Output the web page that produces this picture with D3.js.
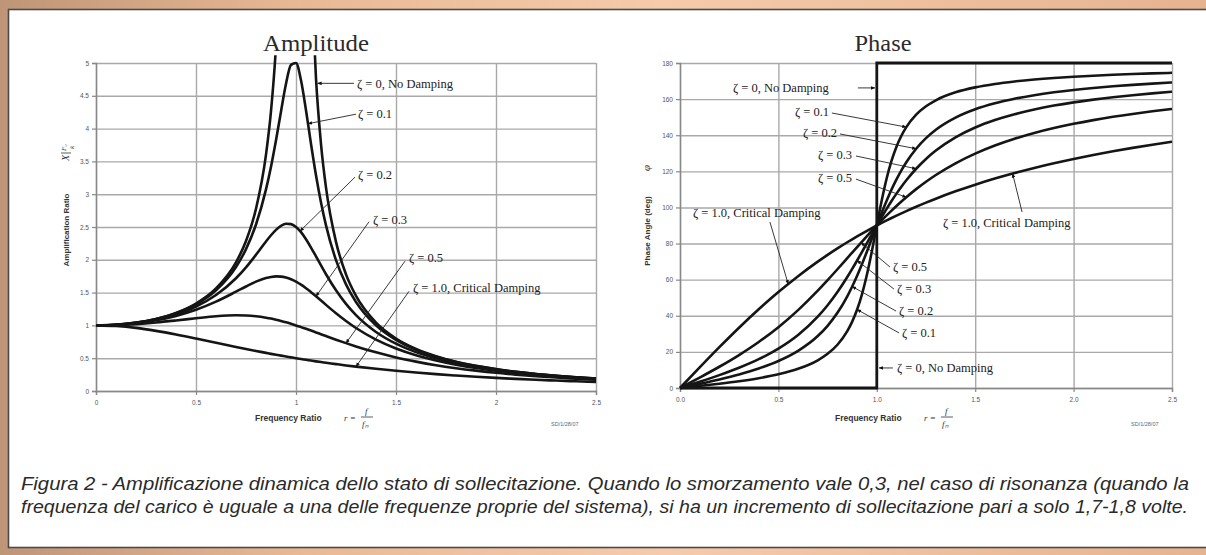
<!DOCTYPE html>
<html><head><meta charset="utf-8">
<script src="https://cdn.jsdelivr.net/npm/d3@7"></script>
<style>
html,body{margin:0;padding:0;background:#fff;}
svg{display:block;}
</style></head>
<body><svg id="c" width="1206" height="555"></svg>
<script>
// ---------- DATA ----------
const ratio = [0,0.1,0.2,0.3,0.4,0.5,0.6,0.7,0.75,0.8,0.85,0.875,0.9,0.925,0.95,0.975,1.0,1.025,1.05,1.075,1.1,1.125,1.15,1.2,1.25,1.3,1.4,1.5,1.6,1.7,1.8,1.9,2.0,2.1,2.2,2.3,2.4,2.5];
// amplification ratio per damping
const amp0  = [1,1.010,1.042,1.099,1.190,1.333,1.563,1.961,2.286,2.778,3.604,4.267,5.263,6.926,null,null,null,null,null,6.426,4.762,3.765,3.101,2.273,1.778,1.449,1.042,0.800,0.641,0.529,0.446,0.383,0.333,0.293,0.260,0.233,0.210,0.190];
const amp1  = [1,1.010,1.041,1.097,1.185,1.322,1.536,1.891,2.162,2.538,3.073,3.419,3.821,4.261,4.683,4.971,5.000,4.736,4.279,3.768,3.288,2.873,2.525,1.995,1.625,1.356,1.000,0.778,0.628,0.521,0.441,0.379,0.330,0.291,0.259,0.232,0.209,0.190];
const amp2  = [1,1.009,1.038,1.090,1.170,1.288,1.463,1.719,1.885,2.076,2.279,2.374,2.457,2.518,2.549,2.544,2.500,2.421,2.313,2.187,2.051,1.914,1.780,1.536,1.329,1.157,0.900,0.721,0.593,0.498,0.425,0.368,0.322,0.285,0.254,0.228,0.206,0.187];
const amp3  = [1,1.008,1.034,1.078,1.145,1.238,1.362,1.514,1.593,1.667,1.722,1.739,1.747,1.744,1.729,1.703,1.667,1.621,1.567,1.507,1.444,1.379,1.313,1.185,1.067,0.960,0.784,0.649,0.546,0.466,0.402,0.351,0.310,0.275,0.246,0.222,0.201,0.183];
const amp5  = [1,1.005,1.020,1.044,1.075,1.109,1.140,1.155,1.152,1.140,1.118,1.104,1.087,1.068,1.047,1.024,1.000,0.974,0.948,0.921,0.893,0.865,0.837,0.782,0.730,0.680,0.589,0.512,0.448,0.393,0.348,0.310,0.277,0.250,0.226,0.205,0.188,0.172];
const amp10 = [1,0.990,0.962,0.917,0.862,0.800,0.735,0.671,0.640,0.610,0.581,0.566,0.552,0.539,0.526,0.513,0.500,0.488,0.476,0.464,0.452,0.441,0.431,0.410,0.390,0.372,0.338,0.308,0.281,0.257,0.236,0.217,0.200,0.185,0.171,0.159,0.148,0.138];
// phase angle (deg) per damping
const stepRatio = [0,1,1,2.5];
const ph0  = [0,0,180,180];
const ph1  = [0,1.16,2.39,3.77,5.44,7.60,10.62,15.35,18.93,23.96,31.49,36.75,43.45,52.03,62.83,75.79,90,103.87,116.02,125.90,133.67,139.73,144.50,151.39,156.04,159.35,163.74,166.50,168.41,169.80,170.87,171.72,172.41,172.98,173.46,173.88,174.24,174.56];
const ph2  = [0,2.31,4.76,7.51,10.78,14.93,20.56,28.77,34.44,41.63,50.78,56.19,62.18,68.69,75.61,82.78,90,97.04,103.72,109.90,115.51,120.55,125.03,132.51,138.37,143.00,149.74,154.36,157.69,160.21,162.18,163.77,165.07,166.16,167.09,167.90,168.60,169.22];
const ph3  = [0,3.47,7.13,11.19,15.95,21.80,29.36,39.47,45.81,53.13,61.45,65.94,70.61,75.42,80.29,85.18,90,94.71,99.24,103.57,107.65,111.48,115.05,121.43,126.87,131.50,138.81,144.25,148.39,151.64,154.26,156.41,158.20,159.72,161.03,162.17,163.17,164.06];
const ph5  = [0,5.77,11.77,18.25,25.46,33.69,43.15,53.92,59.74,65.77,71.92,75.00,78.08,81.13,84.14,87.10,90,92.83,95.58,98.24,100.81,103.29,105.67,110.14,114.23,117.96,124.44,129.81,134.28,138.03,141.22,143.95,146.31,148.37,150.19,151.80,153.24,154.54];
const ph10 = [0,11.42,22.62,33.40,43.60,53.13,61.93,69.98,73.74,77.32,80.73,82.37,83.97,85.54,87.06,88.55,90,91.41,92.79,94.14,95.45,96.73,97.98,100.39,102.68,104.86,108.92,112.62,115.99,119.07,121.89,124.48,126.87,129.07,131.11,133.00,134.76,136.40];
// ticks
const xTicks = [0,0.5,1,1.5,2,2.5];
const ampXLabels = ["0","0.5","1","1.5","2","2.5"];
const phXLabels = ["0.0","0.5","1.0","1.5","2.0","2.5"];
const ampYTicks = [0,0.5,1,1.5,2,2.5,3,3.5,4,4.5,5];
const ampYLabels = ["0","0.5","1","1.5","2","2.5","3","3.5","4","4.5","5"];
const phYTicks = [0,20,40,60,80,100,120,140,160,180];
const phYLabels = ["0","20","40","60","80","100","120","140","160","180"];
const titles = ["Amplitude","Phase"];
const caption = [
 "Figura 2 - Amplificazione dinamica dello stato di sollecitazione. Quando lo smorzamento vale 0,3, nel caso di risonanza (quando la",
 "frequenza del carico è uguale a una delle frequenze proprie del sistema), si ha un incremento di sollecitazione pari a solo 1,7-1,8 volte."
];

// ---------- DRAW ----------
const svg = d3.select("#c");
const defs = svg.append("defs");
const bg = defs.append("linearGradient").attr("id","bg").attr("x1","0").attr("x2","1").attr("y1","0").attr("y2","0");
bg.append("stop").attr("offset","0").attr("stop-color","#bf9577");
bg.append("stop").attr("offset","0.25").attr("stop-color","#e9b995");
bg.append("stop").attr("offset","0.55").attr("stop-color","#f5cbab");
bg.append("stop").attr("offset","1").attr("stop-color","#e6b390");
svg.append("rect").attr("width",1206).attr("height",555).attr("fill","url(#bg)");
svg.append("rect").attr("x",8.5).attr("y",9.5).attr("width",1205).attr("height",538)
  .attr("fill","#fff").attr("stroke","#4a4a4a").attr("stroke-width",1.6);

defs.append("marker").attr("id","arr").attr("viewBox","0 0 10 10").attr("refX",9).attr("refY",5)
  .attr("markerWidth",5).attr("markerHeight",5).attr("orient","auto")
  .append("path").attr("d","M0,1 L10,5 L0,9 Z").attr("fill","#111");

const xA = d3.scaleLinear().domain([0,2.5]).range([96,596]);
const yA = d3.scaleLinear().domain([0,5]).range([391,63]);
const xP = d3.scaleLinear().domain([0,2.5]).range([680,1172]);
const yP = d3.scaleLinear().domain([0,180]).range([388,63]);

function valueAt(arr, r){
  const i = d3.bisectLeft(ratio, r);
  if (ratio[i] === r) return arr[i];
  const t = (r - ratio[i-1])/(ratio[i]-ratio[i-1]);
  return arr[i-1] + t*(arr[i]-arr[i-1]);
}

function frame(x, y, xLabels, yTicks, yLabels){
  const g = svg.append("g");
  const [y0,y1] = y.range(), [x0,x1] = x.range();
  g.append("g").attr("transform",`translate(0,${y0})`)
    .call(d3.axisBottom(x).tickValues(xTicks).tickSize(-(y0-y1)).tickFormat(""))
    .call(s=>s.select(".domain").remove())
    .call(s=>s.selectAll("line").attr("stroke","#a9a9a9").attr("stroke-width",1.4));
  g.append("g").attr("transform",`translate(${x0},0)`)
    .call(d3.axisLeft(y).tickValues(yTicks).tickSize(-(x1-x0)).tickFormat(""))
    .call(s=>s.select(".domain").remove())
    .call(s=>s.selectAll("line").attr("stroke","#a9a9a9").attr("stroke-width",1.4));
  const ax = g.append("g").attr("transform",`translate(0,${y0})`)
    .call(d3.axisBottom(x).tickValues(xTicks).tickSize(4).tickPadding(5).tickFormat((d,i)=>xLabels[i]));
  const ay = g.append("g").attr("transform",`translate(${x0},0)`)
    .call(d3.axisLeft(y).tickValues(yTicks).tickSize(4).tickPadding(3).tickFormat((d,i)=>yLabels[i]));
  [ax,ay].forEach(a=>{
    a.select(".domain").attr("stroke","#888").attr("stroke-width",1.4);
    a.selectAll(".tick line").attr("stroke","#888").attr("stroke-width",1.2);
    a.selectAll("text").attr("font-family","Liberation Sans, Arial, sans-serif").attr("font-size",6.5).attr("fill","#555");
  });
  return g;
}

frame(xA, yA, ampXLabels, ampYTicks, ampYLabels);
frame(xP, yP, phXLabels, phYTicks, phYLabels);

// titles
svg.append("text").attr("x",316).attr("y",51).attr("text-anchor","middle")
  .attr("font-family","Liberation Serif, Times New Roman, serif").attr("font-size",23)
  .attr("fill","#2b2b2b").attr("textLength",106).attr("lengthAdjust","spacingAndGlyphs").text(titles[0]);
svg.append("text").attr("x",883).attr("y",51).attr("text-anchor","middle")
  .attr("font-family","Liberation Serif, Times New Roman, serif").attr("font-size",23)
  .attr("fill","#2b2b2b").attr("textLength",57).attr("lengthAdjust","spacingAndGlyphs").text(titles[1]);

// curves
const clip = defs.append("clipPath").attr("id","clipA");
clip.append("rect").attr("x",xA(0)-2).attr("y",yA(5.12)).attr("width",xA(2.5)-xA(0)+4).attr("height",yA(0)-yA(5.12)+4);

const lineA = d3.line().defined(d=>d[1]!=null).x(d=>xA(d[0])).y(d=>yA(d[1])).curve(d3.curveMonotoneX);
const gA = svg.append("g").attr("clip-path","url(#clipA)");
[amp0,amp1,amp2,amp3,amp5,amp10].forEach(arr=>{
  gA.append("path").attr("d", lineA(ratio.map((r,i)=>[r,arr[i]])))
    .attr("fill","none").attr("stroke","#151515").attr("stroke-width",2.6).attr("stroke-linejoin","round");
});

const lineP = d3.line().x(d=>xP(d[0])).y(d=>yP(d[1])).curve(d3.curveMonotoneX);
const gP = svg.append("g");
[ph1,ph2,ph3,ph5,ph10].forEach(arr=>{
  gP.append("path").attr("d", lineP(ratio.map((r,i)=>[r,arr[i]])))
    .attr("fill","none").attr("stroke","#151515").attr("stroke-width",2.6).attr("stroke-linejoin","round");
});
gP.append("path").attr("d", d3.line().x(d=>xP(d[0])).y(d=>yP(d[1]))(stepRatio.map((r,i)=>[r,ph0[i]])))
  .attr("fill","none").attr("stroke","#151515").attr("stroke-width",2.8);

// axis titles
const sans = "Liberation Sans, Arial, sans-serif", serif = "Liberation Serif, Times New Roman, serif";
function xTitle(dx){
  const g = svg.append("g").attr("transform",`translate(${dx},0)`);
  g.append("text").attr("x",255).attr("y",421).attr("font-family",sans).attr("font-weight","bold")
    .attr("font-size",8.5).attr("fill","#333").text("Frequency Ratio");
  g.append("text").attr("x",344).attr("y",421).attr("font-family",serif).attr("font-style","italic")
    .attr("font-size",9).attr("fill","#333").text("r =");
  g.append("text").attr("x",365).attr("y",414).attr("font-family",serif).attr("font-style","italic")
    .attr("font-size",9).attr("fill","#333").text("f");
  g.append("line").attr("x1",361).attr("x2",373).attr("y1",417).attr("y2",417).attr("stroke","#333").attr("stroke-width",0.8);
  g.append("text").attr("x",362).attr("y",427).attr("font-family",serif).attr("font-style","italic")
    .attr("font-size",9).attr("fill","#333").text("fₙ");
  g.append("text").attr("x",551).attr("y",426).attr("font-family",sans).attr("font-size",5.5)
    .attr("fill","#666").text("SD/1/28/07");
}
xTitle(0); xTitle(580);

svg.append("text").attr("transform","translate(69,230) rotate(-90)").attr("text-anchor","middle")
  .attr("font-family",sans).attr("font-weight","bold").attr("font-size",8).attr("fill","#333").text("Amplification Ratio");
const yf = svg.append("g").attr("transform","translate(69,152) rotate(-90)");
yf.append("text").attr("x",-9).attr("y",0).attr("font-family",serif).attr("font-style","italic").attr("font-size",10).attr("fill","#333").text("X");
yf.append("line").attr("x1",-1).attr("x2",-1).attr("y1",-8).attr("y2",2).attr("stroke","#333").attr("stroke-width",0.8);
yf.append("text").attr("x",1).attr("y",-3).attr("font-family",serif).attr("font-style","italic").attr("font-size",7).attr("fill","#333").text("F₀");
yf.append("text").attr("x",3).attr("y",5).attr("font-family",serif).attr("font-style","italic").attr("font-size",7).attr("fill","#333").text("k");

svg.append("text").attr("transform","translate(650,231) rotate(-90)").attr("text-anchor","middle")
  .attr("font-family",sans).attr("font-weight","bold").attr("font-size",8).attr("fill","#333").text("Phase Angle (deg)");
svg.append("text").attr("transform","translate(650,168) rotate(-90)").attr("text-anchor","middle")
  .attr("font-family",serif).attr("font-style","italic").attr("font-size",11).attr("fill","#333").text("φ");

// annotations
function annot(x, y, label, tx, ty, sx, sy, ex, ey){
  svg.append("text").attr("x",x(tx)).attr("y",y(ty)).attr("font-family",serif).attr("font-size",12.5)
    .attr("fill","#222").text(label);
  svg.append("line").attr("x1",x(sx)).attr("y1",y(sy)).attr("x2",x(ex)).attr("y2",y(ey))
    .attr("stroke","#222").attr("stroke-width",0.9).attr("marker-end","url(#arr)");
}
// amplitude
annot(xA,yA,"ζ = 0,  No Damping", 1.305,4.62, 1.29,4.69, 1.108,4.69);
annot(xA,yA,"ζ = 0.1", 1.31,4.16, 1.30,4.22, 1.06,valueAt(amp1,1.06));
annot(xA,yA,"ζ = 0.2", 1.31,3.23, 1.295,3.26, 1.02,valueAt(amp2,1.02));
annot(xA,yA,"ζ = 0.3", 1.385,2.55, 1.365,2.58, 1.1,valueAt(amp3,1.1));
annot(xA,yA,"ζ = 0.5", 1.565,1.97, 1.545,1.98, 1.25,valueAt(amp5,1.25));
annot(xA,yA,"ζ = 1.0, Critical Damping", 1.585,1.51, 1.565,1.52, 1.3,valueAt(amp10,1.3));
// phase
annot(xP,yP,"ζ = 0,  No Damping", 0.269,163.9, 0.904,166.2, 0.99,166.2);
annot(xP,yP,"ζ = 0.1", 0.584,150.6, 0.772,152.3, 1.15,valueAt(ph1,1.15));
annot(xP,yP,"ζ = 0.2", 0.625,139.0, 0.813,140.7, 1.2,valueAt(ph2,1.2));
annot(xP,yP,"ζ = 0.3", 0.701,126.8, 0.894,128.5, 1.2,valueAt(ph3,1.2));
annot(xP,yP,"ζ = 0.5", 0.701,114.1, 0.894,115.7, 1.15,valueAt(ph5,1.15));
annot(xP,yP,"ζ = 1.0, Critical Damping", 0.066,94.7, 0.457,91.9, 0.55,valueAt(ph10,0.55));
annot(xP,yP,"ζ = 1.0, Critical Damping", 1.336,89.2, 1.738,97.5, 1.69,valueAt(ph10,1.69));
annot(xP,yP,"ζ = 0.5", 1.082,64.8, 1.067,67.0, 0.92,valueAt(ph5,0.92));
annot(xP,yP,"ζ = 0.3", 1.103,52.6, 1.087,54.8, 0.9,valueAt(ph3,0.9));
annot(xP,yP,"ζ = 0.2", 1.113,40.4, 1.098,42.6, 0.875,valueAt(ph2,0.875));
annot(xP,yP,"ζ = 0.1", 1.128,28.2, 1.113,30.5, 0.9,valueAt(ph1,0.9));
annot(xP,yP,"ζ = 0,  No Damping", 1.103,8.9, 1.082,11.1, 1.012,11.1);

// caption
caption.forEach((t,i)=>{
  svg.append("text").attr("x",21).attr("y",490+i*23)
    .attr("font-family","Liberation Sans Narrow, Liberation Sans, Arial, sans-serif")
    .attr("font-style","italic").attr("font-size",18).attr("fill","#2a2a2a")
    .attr("textLength", i===0 ? 1168 : 1167).attr("lengthAdjust","spacingAndGlyphs").text(t);
});
</script>
</body></html>
